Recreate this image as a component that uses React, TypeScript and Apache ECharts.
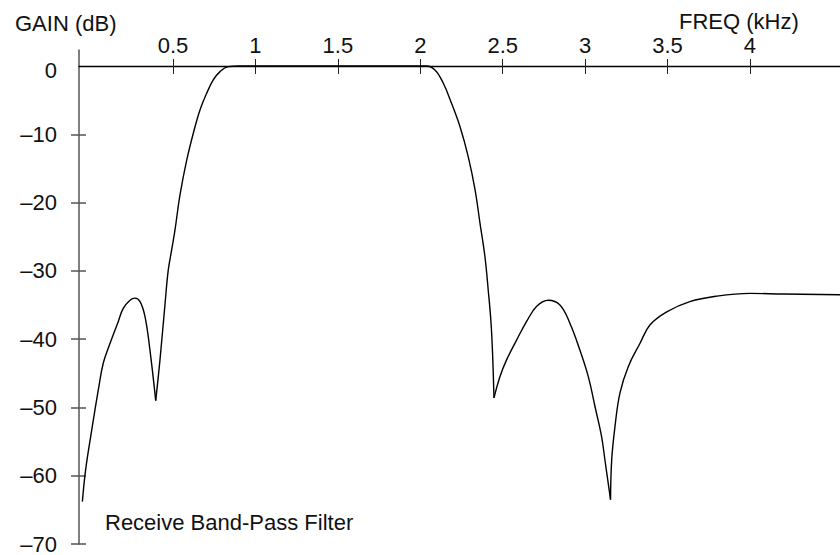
import React, { useEffect, useRef } from "react";
import * as echarts from "echarts";

// Frequency (kHz) and gain (dB)
const freq = [
  -0.05, -0.03, 0.007, 0.047, 0.077, 0.118, 0.168, 0.198, 0.239, 0.269, 0.3, 0.33, 0.36, 0.395,
  0.421, 0.452, 0.471, 0.492, 0.512, 0.542, 0.583, 0.623, 0.664, 0.704, 0.744, 0.785, 0.835,
  0.9, 1.0, 1.5, 2.0, 2.039, 2.089, 2.139, 2.19, 2.241, 2.291, 2.332, 2.362, 2.392, 2.412, 2.429,
  2.439, 2.447, 2.483, 2.524, 2.585, 2.645, 2.706, 2.776, 2.847, 2.908, 2.968, 3.019, 3.06, 3.1,
  3.12, 3.154, 3.161, 3.181, 3.211, 3.262, 3.333, 3.394, 3.495, 3.635, 3.798, 4.0, 4.202, 4.546,
];
const gain = [
  -63.8, -59.1, -53.3, -47.4, -43.5, -40.6, -37.4, -35.5, -34.3, -34.0, -34.5, -36.7, -41.6, -49.0,
  -43.0, -34.7, -29.9, -26.9, -24.0, -18.9, -13.8, -9.85, -6.4, -4.0, -2.05, -0.83, -0.1,
  0, 0, 0, 0, 0, -0.6, -2.5, -5.5, -8.9, -13.3, -18.1, -23.0, -27.9, -32.8, -37.6,
  -42.5, -48.6, -45.5, -43.0, -40.1, -37.4, -35.2, -34.3, -35.0, -37.7, -41.6, -45.5, -49.9, -54.3,
  -57.7, -63.5, -57.7, -52.8, -47.9, -44.0, -40.6, -37.9, -36.0, -34.5, -33.7, -33.3, -33.4, -33.5,
];
// indices of the sharp notches (curve is smooth between them)
const notchIndices = [13, 43, 57];

const xTickValues = [0.5, 1, 1.5, 2, 2.5, 3, 3.5, 4];
const yLabelValues = [0, -10, -20, -30, -40, -50, -60, -70];
const yTickValues = [-10, -20, -30, -40, -50, -60, -70];

const X_MIN = -0.0704;
const X_MAX = 4.546;
const Y_MIN = -70;
const Y_MAX = 2.34;

export default function App() {
  const ref = useRef<HTMLDivElement>(null);

  useEffect(() => {
    if (!ref.current) return;
    const chart = echarts.init(ref.current, null, { renderer: "svg" });
    const font = "'Liberation Sans', Arial, Helvetica, sans-serif";
    const gridRect = { left: 79, right: 0, top: 50, bottom: 11, outerBoundsMode: "none" };

    const fmtY = (v: number) => {
      if (v === 0) return "{z|0}";
      return v < 0 ? "\u2013" + String(-v) : String(v);
    };

    const points = freq.map((f, i) => [f, gain[i]]);
    const bounds = [0, ...notchIndices, points.length - 1];
    const segments: number[][][] = [];
    for (let s = 0; s < bounds.length - 1; s++) {
      segments.push(points.slice(bounds[s], bounds[s + 1] + 1));
    }

    chart.setOption({
      animation: false,
      backgroundColor: "#ffffff",
      grid: [{ ...gridRect }, { ...gridRect }],
      xAxis: [
        {
          gridIndex: 0,
          type: "value",
          position: "top",
          min: X_MIN,
          max: X_MAX,
          splitLine: { show: false },
          axisLine: { show: true, onZero: true, lineStyle: { color: "#000", width: 1.3 } },
          axisTick: {
            show: true,
            inside: false,
            length: 7,
            customValues: xTickValues,
            lineStyle: { color: "#222", width: 1 },
          },
          axisLabel: {
            customValues: xTickValues,
            margin: -6,
            fontSize: 22,
            color: "#111",
            fontFamily: font,
          },
        },
        {
          gridIndex: 1,
          type: "value",
          position: "top",
          min: X_MIN,
          max: X_MAX,
          splitLine: { show: false },
          axisLine: { show: true, onZero: true, lineStyle: { color: "#000", width: 1, opacity: 0 } },
          axisTick: {
            show: true,
            inside: true,
            length: 8,
            customValues: xTickValues,
            lineStyle: { color: "#222", width: 1 },
          },
          axisLabel: { show: false },
        },
      ],
      yAxis: [
        {
          gridIndex: 0,
          type: "value",
          position: "left",
          min: Y_MIN,
          max: Y_MAX,
          splitLine: { show: false },
          axisLine: { show: true, onZero: false, lineStyle: { color: "#555", width: 1.5 } },
          axisTick: {
            show: true,
            inside: false,
            length: 8,
            customValues: yTickValues,
            lineStyle: { color: "#555", width: 1.5 },
          },
          axisLabel: {
            customValues: yLabelValues,
            margin: 22,
            fontSize: 22,
            color: "#111",
            fontFamily: font,
            formatter: fmtY,
            rich: {
              z: { fontSize: 22, color: "#111", fontFamily: font, padding: [9, 0, 0, 0] },
            },
          },
        },
        {
          gridIndex: 1,
          type: "value",
          position: "left",
          min: Y_MIN,
          max: Y_MAX,
          splitLine: { show: false },
          axisLine: { show: true, onZero: false, lineStyle: { color: "#555", width: 1, opacity: 0 } },
          axisTick: {
            show: true,
            inside: true,
            length: 7,
            customValues: yTickValues,
            lineStyle: { color: "#555", width: 1.5 },
          },
          axisLabel: { show: false },
        },
      ],
      graphic: [
        {
          type: "text",
          left: 15,
          top: 12,
          style: { text: "GAIN (dB)", fontSize: 22, fontFamily: font, fill: "#111" },
        },
        {
          type: "text",
          left: 679,
          top: 10,
          style: { text: "FREQ (kHz)", fontSize: 22, fontFamily: font, fill: "#111" },
        },
        {
          type: "text",
          left: 105,
          top: 511,
          style: { text: "Receive Band-Pass Filter", fontSize: 22, fontFamily: font, fill: "#111" },
        },
      ],
      series: segments.map((seg) => ({
        type: "line",
        xAxisIndex: 0,
        yAxisIndex: 0,
        data: seg,
        symbol: "none",
        showSymbol: false,
        smooth: 0.4,
        lineStyle: { color: "#000", width: 1.4 },
      })),
    });

    return () => chart.dispose();
  }, []);

  return (
    <div
      ref={ref}
      style={{ position: "fixed", left: 0, top: 0, width: 840, height: 555, background: "#fff" }}
    />
  );
}
